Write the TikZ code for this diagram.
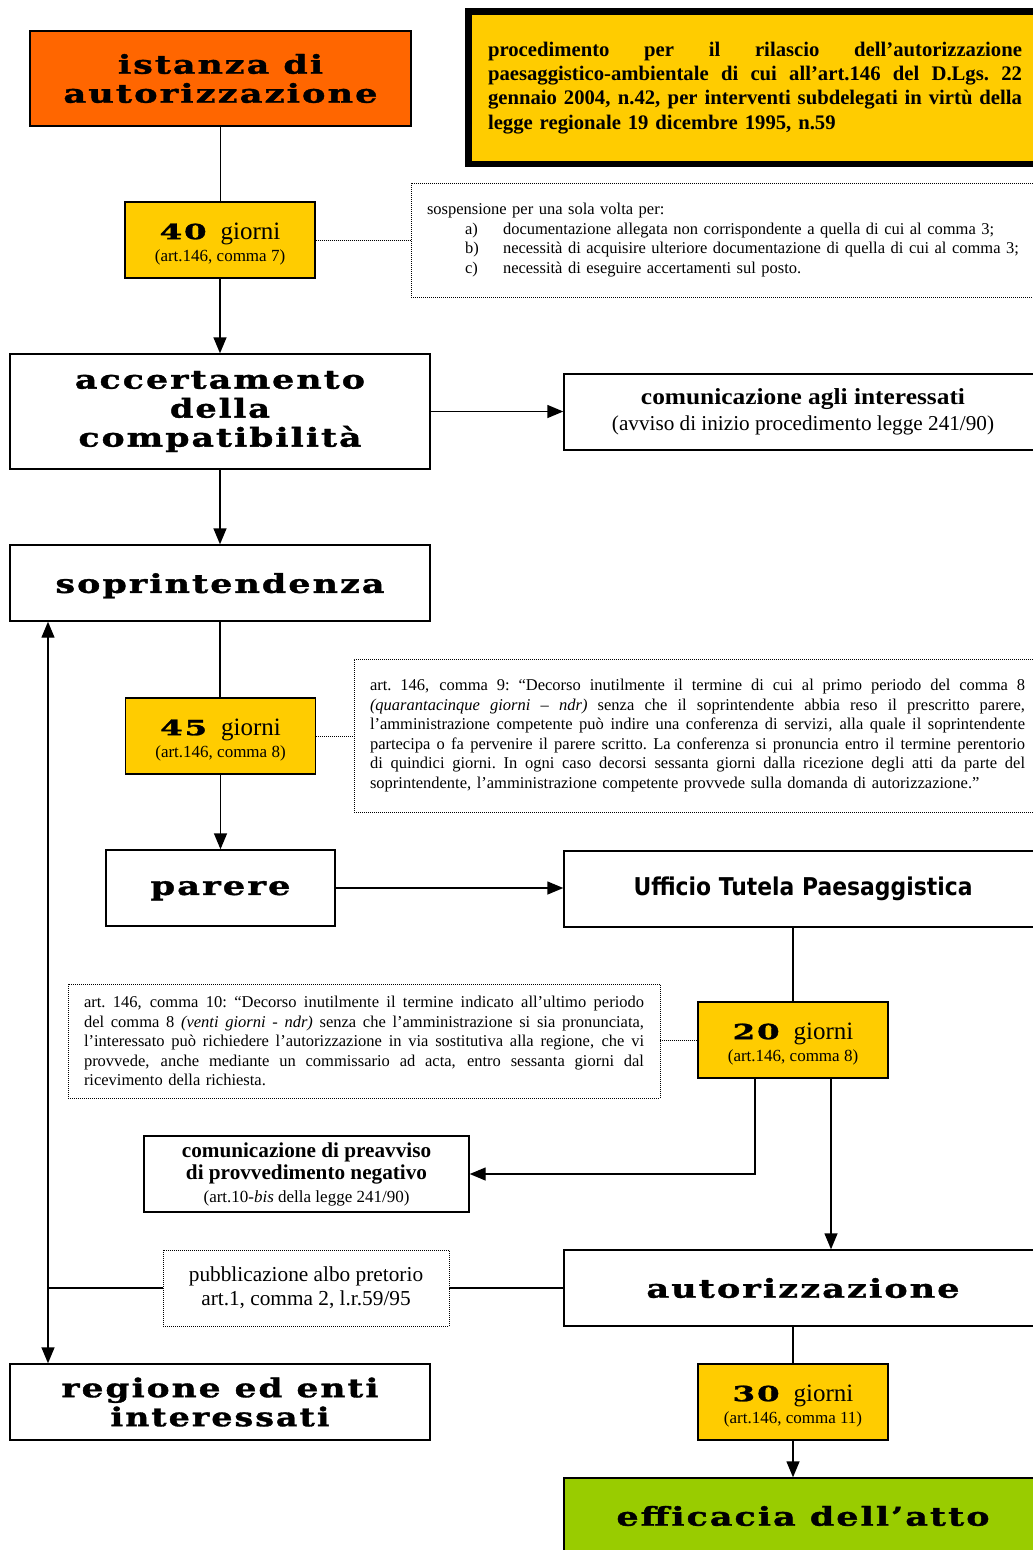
\documentclass[tikz,border=0pt]{standalone}
\usepackage{fontspec}
\usepackage{graphicx}
\setmainfont{Liberation Serif}
\newfontfamily\widefont[LetterSpace=6.0,BoldFeatures={FakeBold=1.2}]{DejaVu Serif}
\newfontfamily\ufont{DejaVu Sans}
\usetikzlibrary{arrows.meta}
\definecolor{orng}{HTML}{FF6600}
\definecolor{gold}{HTML}{FFCC00}
\definecolor{grn}{HTML}{99CC00}
\newcommand\W[2]{\resizebox{#1pt}{\height}{\widefont\bfseries #2}}
\newcommand\J[2]{\leavevmode\hbox to #1pt{\spaceskip=0.25em plus 1fil\xspaceskip=0.25em plus 1fil\relax #2}}
\newcommand\giornibox[2]{\rule{0pt}{24pt}{\fontsize{21}{21}\selectfont\W{47}{#1}}\hspace{14pt}{\fontsize{25}{25}\selectfont giorni}\\(art.146, comma #2)}
\begin{document}
\begin{tikzpicture}[x=1pt,y=-1pt,
  box/.style={draw, line width=1.4pt, inner sep=0pt, align=center},
  gbox/.style={box, fill=gold, minimum width=190pt, minimum height=76pt, font=\fontsize{17}{22}\selectfont},
  note/.style={draw, line width=0.9pt, dash pattern=on 1pt off 1pt, inner ysep=0pt, inner xsep=16pt, align=left},
  notefont/.style={font=\fontsize{16.5}{19.5}\selectfont},
  dot/.style={line width=0.9pt, dash pattern=on 1pt off 1pt},
  conn/.style={line width=1.4pt},
  arr/.style={conn, -{Triangle[length=16pt,width=13pt]}},
  wide/.style={font=\fontsize{26}{29}\selectfont},
]
\useasboundingbox (0,0) rectangle (1033,1550);
\clip (0,0) rectangle (1033,1550);
\coordinate (vx) at (48,0);

% top
\node[box, fill=orng, minimum width=381pt, minimum height=95pt, wide] (ist) at (220.5,78.5)
  {\W{205}{istanza di}\\\W{314}{autorizzazione}};
\node[box, fill=gold, line width=6.5pt, minimum width=573pt, minimum height=152.5pt,
  text width=534pt, align=left, font=\fontsize{20.7}{24.3}\selectfont\bfseries] (tit) at (755,87.75)
  {\J{534}{procedimento per il rilascio dell’autorizzazione}\\
   \J{534}{paesaggistico-ambientale di cui all’art.146 del D.Lgs. 22}\\
   \J{534}{gennaio 2004, n.42, per interventi subdelegati in virtù della}\\
   legge regionale 19 dicembre 1995, n.59};

\node[gbox] (g40) at (220,240) {\giornibox{40}{7}};
\node[note, notefont, text width=597pt, minimum height=114pt] (n1) at (725.5,240)
  {sospensione per una sola volta per:\\
   \hspace*{38pt}\makebox[38pt][l]{a)}documentazione allegata non corrispondente a quella di cui al comma 3;\\
   \hspace*{38pt}\makebox[38pt][l]{b)}necessità di acquisire ulteriore documentazione di quella di cui al comma 3;\\
   \hspace*{38pt}\makebox[38pt][l]{c)}necessità di eseguire accertamenti sul posto.};

\node[box, minimum width=420pt, minimum height=115pt, wide] (acc) at (220,411.5)
  {\W{290}{accertamento}\\\W{100}{della}\\\W{283}{compatibilità}};
\node[box, minimum width=478pt, minimum height=76pt, font=\fontsize{21.2}{26}\selectfont] (com) at (803,412)
  {{\fontsize{23}{26}\selectfont\bfseries\resizebox{324pt}{\height}{comunicazione agli interessati}}\\(avviso di inizio procedimento legge 241/90)};

\node[box, minimum width=420pt, minimum height=76pt, wide, text depth=0pt] (sop) at (220,583) {\W{329}{soprintendenza}};

\node[gbox] (g45) at (220.5,736) {\giornibox{45}{8}};
\node[note, notefont, text width=655pt, minimum height=153pt] (n9) at (697.5,735.5)
  {\J{655}{art. 146, comma 9: “Decorso inutilmente il termine di cui al primo periodo del comma 8}\\
   \J{655}{\textit{(quarantacinque giorni – ndr)} senza che il soprintendente abbia reso il prescritto parere,}\\
   \J{655}{l’amministrazione competente può indire una conferenza di servizi, alla quale il soprintendente}\\
   \J{655}{partecipa o fa pervenire il parere scritto. La conferenza si pronuncia entro il termine perentorio}\\
   \J{655}{di quindici giorni. In ogni caso decorsi sessanta giorni dalla ricezione degli atti da parte del}\\
   soprintendente, l’amministrazione competente provvede sulla domanda di autorizzazione.”};

\node[box, minimum width=229pt, minimum height=76pt, wide, text depth=0pt] (par) at (220.5,888) {\W{140}{parere}};
\node[box, minimum width=478pt, minimum height=76pt, font=\fontsize{24.5}{26}\selectfont] (uff) at (803,889)
  {\resizebox{339pt}{\height}{\ufont\bfseries Ufficio Tutela Paesaggistica}};

\node[gbox] (g20) at (793,1040) {\giornibox{20}{8}};
\node[note, notefont, text width=560pt, minimum height=114pt] (n10) at (364,1041)
  {\J{560}{art. 146, comma 10: “Decorso inutilmente il termine indicato all’ultimo periodo}\\
   \J{560}{del comma 8 \textit{(venti giorni - ndr)} senza che l’amministrazione si sia pronunciata,}\\
   \J{560}{l’interessato può richiedere l’autorizzazione in via sostitutiva alla regione, che vi}\\
   \J{560}{provvede, anche mediante un commissario ad acta, entro sessanta giorni dal}\\
   ricevimento della richiesta.};

\node[box, minimum width=325pt, minimum height=76pt, font=\fontsize{17}{22.5}\selectfont] (prea) at (306.5,1174)
  {{\fontsize{21.2}{24}\selectfont\bfseries comunicazione di preavviso}\\
   {\fontsize{21.2}{24}\selectfont\bfseries di provvedimento negativo}\\
   (art.10-\textit{bis} della legge 241/90)};

\node[box, minimum width=478pt, minimum height=76pt, wide] (aut) at (803,1288) {\W{313}{autorizzazione}};
\node[note, align=center, inner xsep=0pt, minimum width=286pt, minimum height=76pt, font=\fontsize{21.3}{24}\selectfont] (pub) at (306,1288)
  {pubblicazione albo pretorio\\art.1, comma 2, l.r.59/95};

\node[box, minimum width=420pt, minimum height=76pt, wide] (reg) at (220,1402)
  {\W{317}{regione ed enti}\\\W{219}{interessati}};
\node[gbox] (g30) at (793,1402) {\giornibox{30}{11}};
\node[box, fill=grn, minimum width=478pt, minimum height=76pt, wide] (eff) at (803,1516) {\W{373}{efficacia dell’atto}};

% connectors
\draw[conn] (ist.south) -- (ist.south |- g40.north);
\draw[dot] (g40.east) -- (g40.east -| n1.west);
\draw[arr] (g40.south) -- (g40.south |- acc.north);
\draw[arr] (acc.east) -- (acc.east -| com.west);
\draw[arr] (acc.south) -- (acc.south |- sop.north);
\draw[conn] (sop.south) -- (sop.south |- g45.north);
\draw[dot] (g45.east) -- (g45.east -| n9.west);
\draw[arr] (g45.south) -- (g45.south |- par.north);
\draw[arr] (par.east) -- (par.east -| uff.west);
\draw[conn] (g20.north |- uff.south) -- (g20.north);
\draw[dot] (g20.west) -- (g20.west -| n10.east);
\draw[arr] ([xshift=-38pt]g20.south) |- (prea.east);
\draw[arr] ([xshift=38pt]g20.south) -- ([xshift=38pt]g20.south |- aut.north);
\draw[conn] (aut.west) -- (aut.west -| pub.east);
\draw[conn] (pub.west) -- (pub.west -| vx);
\draw[conn, {Triangle[length=16pt,width=13pt]}-{Triangle[length=16pt,width=13pt]}] (sop.south -| vx) -- (reg.north -| vx);
\draw[conn] (g30.north |- aut.south) -- (g30.north);
\draw[arr] (g30.south) -- (g30.south |- eff.north);
\end{tikzpicture}
\end{document}
